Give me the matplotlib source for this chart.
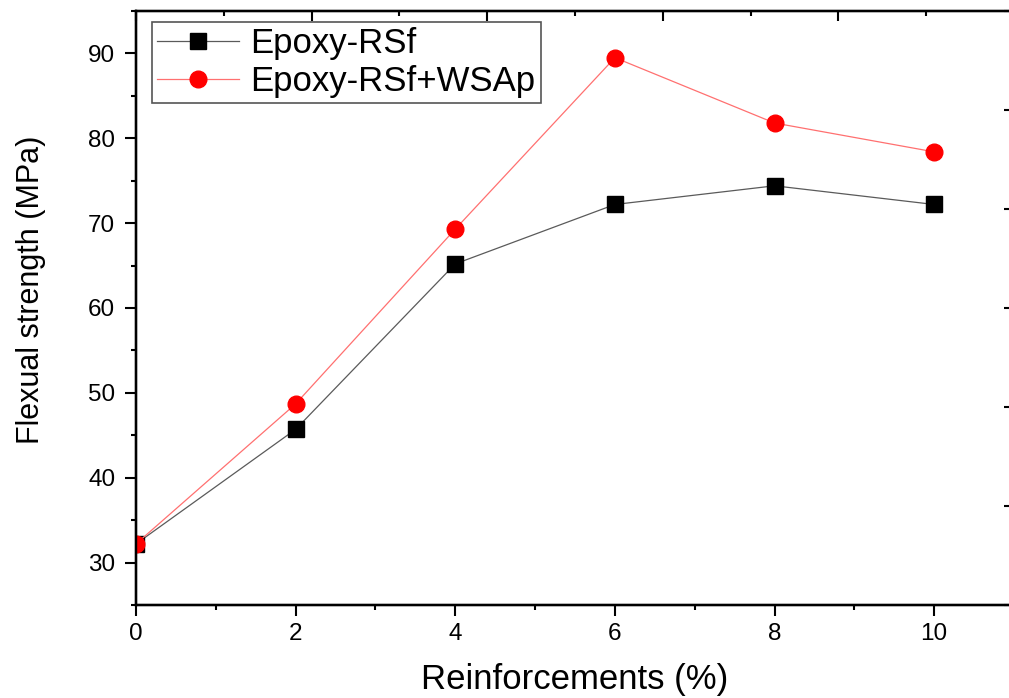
import matplotlib
matplotlib.use("Agg")
import matplotlib.pyplot as plt
from matplotlib.ticker import MultipleLocator, NullFormatter

plt.rcParams['font.family'] = ['Liberation Sans', 'DejaVu Sans']

# data
reinforcement = [0, 2, 4, 6, 8, 10]
epoxy_rsf = [32.2, 45.7, 65.2, 72.2, 74.4, 72.2]
epoxy_rsf_wsap = [32.2, 48.7, 69.3, 89.5, 81.8, 78.4]
labels = ['Epoxy-RSf', 'Epoxy-RSf+WSAp']

W, H = 1009, 698
fig = plt.figure(figsize=(W / 100, H / 100), dpi=100)
# axes box in pixels: left 136, right 1014 (just past the image edge), top 11, bottom 605
ax = fig.add_axes([136 / W, 1 - 605 / H, 878 / W, 594 / H])

ax.plot(reinforcement, epoxy_rsf, color='#5a5a5a', lw=0.9, marker='s', ms=11,
        mfc='black', mec='black', label=labels[0], zorder=3)
ax.plot(reinforcement, epoxy_rsf_wsap, color='#ff7070', lw=0.9, marker='o', ms=12,
        mfc='red', mec='red', label=labels[1], zorder=4)

ax.set_xlim(0, 11)
ax.set_ylim(25, 95)
ax.xaxis.set_major_locator(MultipleLocator(2))
ax.xaxis.set_minor_locator(MultipleLocator(1))
ax.yaxis.set_major_locator(MultipleLocator(10))
ax.yaxis.set_minor_locator(MultipleLocator(5))

for s in ax.spines.values():
    s.set_linewidth(1.6)
ax.tick_params(which='major', direction='out', length=8, width=1.5, labelsize=17.5, pad=5)
ax.tick_params(which='minor', direction='out', length=3.8, width=1.5)
ax.tick_params(top=False, right=False, which='both')
ax.tick_params(axis='y', which='major', pad=7)

ax.set_xlabel('Reinforcements (%)', fontsize=25)
ax.set_ylabel('Flexual strength (MPa)', fontsize=22)
ax.xaxis.set_label_coords(0.5, -0.097)
ax.yaxis.set_label_coords(-0.103, 0.53)

# top and right axes of the original have their own (unlabelled) scales
axt = ax.twiny()
axt.set_xlim(0, 10)
axt.xaxis.set_major_locator(MultipleLocator(2))
axt.xaxis.set_minor_locator(MultipleLocator(1))
axt.xaxis.set_major_formatter(NullFormatter())
axt.tick_params(which='major', direction='in', length=7, width=1.5)
axt.tick_params(which='minor', direction='in', length=3.5, width=1.5)

axr = ax.twinx()
axr.set_ylim(0, 6)
axr.yaxis.set_major_locator(MultipleLocator(1))
axr.yaxis.set_minor_locator(MultipleLocator(0.5))
axr.yaxis.set_major_formatter(NullFormatter())
axr.tick_params(which='major', direction='in', length=7, width=1.5)
axr.tick_params(which='minor', direction='in', length=2, width=1.5)
for a in (axt, axr):
    for s in a.spines.values():
        s.set_linewidth(1.6)

handles, labs = ax.get_legend_handles_labels()
leg = axr.legend(handles, labs, loc='upper left', bbox_to_anchor=(152 / W, 1 - 22 / H),
                 bbox_transform=fig.transFigure, borderaxespad=0, fontsize=25,
                 frameon=True, fancybox=False, edgecolor='#555555',
                 handlelength=2.35, handletextpad=0.34, borderpad=0.15,
                 labelspacing=0.14, framealpha=1)
leg.get_frame().set_linewidth(1.2)

fig.savefig('out.png', dpi=100)
